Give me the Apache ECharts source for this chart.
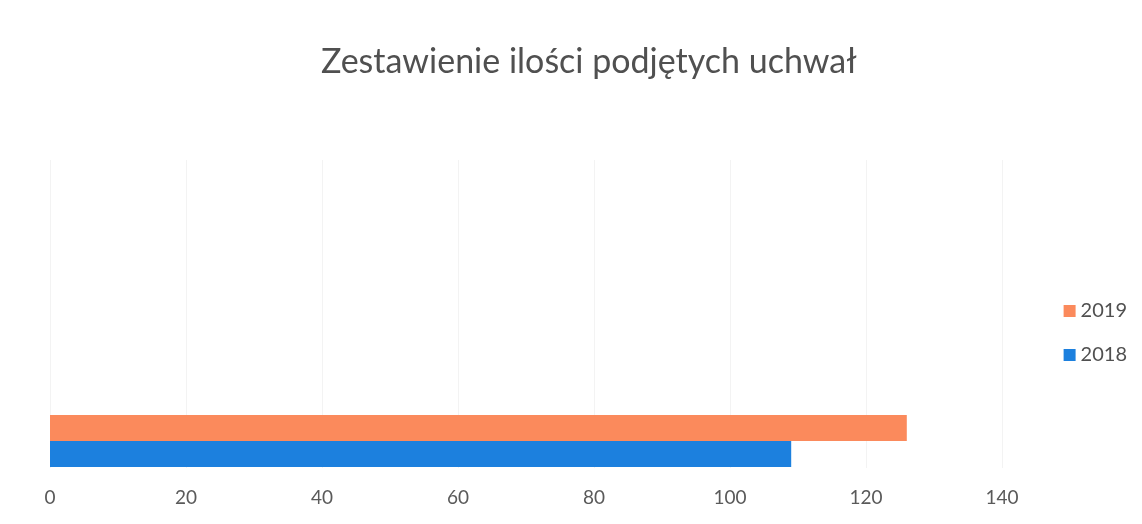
<!DOCTYPE html>
<html>
<head>
<meta charset="utf-8">
<script src="https://cdn.jsdelivr.net/npm/echarts@6/dist/echarts.min.js"></script>
<style>
html, body { margin: 0; padding: 0; background: #fff; }
#main { width: 1142px; height: 524px; }
</style>
</head>
<body>
<div id="main"></div>
<script>
var categories = [''];
var seriesNames = ['2019', '2018'];
var values2019 = [126];
var values2018 = [109];
var xTicks = [0, 20, 40, 60, 80, 100, 120, 140];

function loadMyChart() {
	var myChart = echarts.init(document.getElementById('main'));
	var font = 'Lato, "Open Sans", sans-serif';
	var option = {
		backgroundColor: '#ffffff',
		animation: false,
		title: {
			text: 'Zestawienie ilości podjętych uchwał',
			left: 316,
			top: 40,
			textStyle: { fontFamily: font, fontSize: 34, fontWeight: 'normal', color: '#505050' }
		},
		legend: {
			orient: 'vertical',
			right: 10,
			top: 296,
			icon: 'rect',
			itemWidth: 12,
			itemHeight: 12,
			itemGap: 24,
			data: ['2019', '2018'],
			textStyle: { fontFamily: font, fontSize: 20, color: '#505050' }
		},
		grid: [
			{ left: 50, right: 140, top: 160, bottom: 56 },
			{ left: 50, right: 140, top: 414, bottom: 56 }
		],
		xAxis: [{
			gridIndex: 0,
			type: 'value',
			min: xTicks[0],
			max: xTicks[xTicks.length - 1],
			interval: 20,
			axisLine: { show: false },
			axisTick: { show: false },
			axisLabel: { margin: 20, fontFamily: font, fontSize: 19, color: '#5a5a5a' },
			splitLine: { lineStyle: { color: '#f3f3f3', width: 1 } }
		}, {
			gridIndex: 1,
			type: 'value',
			min: xTicks[0],
			max: xTicks[xTicks.length - 1],
			show: false
		}],
		yAxis: [{
			gridIndex: 0,
			type: 'category',
			data: categories,
			show: false
		}, {
			gridIndex: 1,
			type: 'category',
			data: categories,
			axisLine: { show: false },
			axisTick: { show: false },
			axisLabel: { show: false }
		}],
		series: [{
			name: seriesNames[0],
			type: 'bar',
			xAxisIndex: 1,
			yAxisIndex: 1,
			barWidth: 26,
			barGap: '0%',
			data: values2019,
			itemStyle: { color: '#fb8a5c' }
		}, {
			name: seriesNames[1],
			type: 'bar',
			xAxisIndex: 1,
			yAxisIndex: 1,
			barWidth: 26,
			barGap: '0%',
			data: values2018,
			itemStyle: { color: '#1c80de' }
		}]
	};
	myChart.setOption(option);
}

loadMyChart();
</script>
</body>
</html>
